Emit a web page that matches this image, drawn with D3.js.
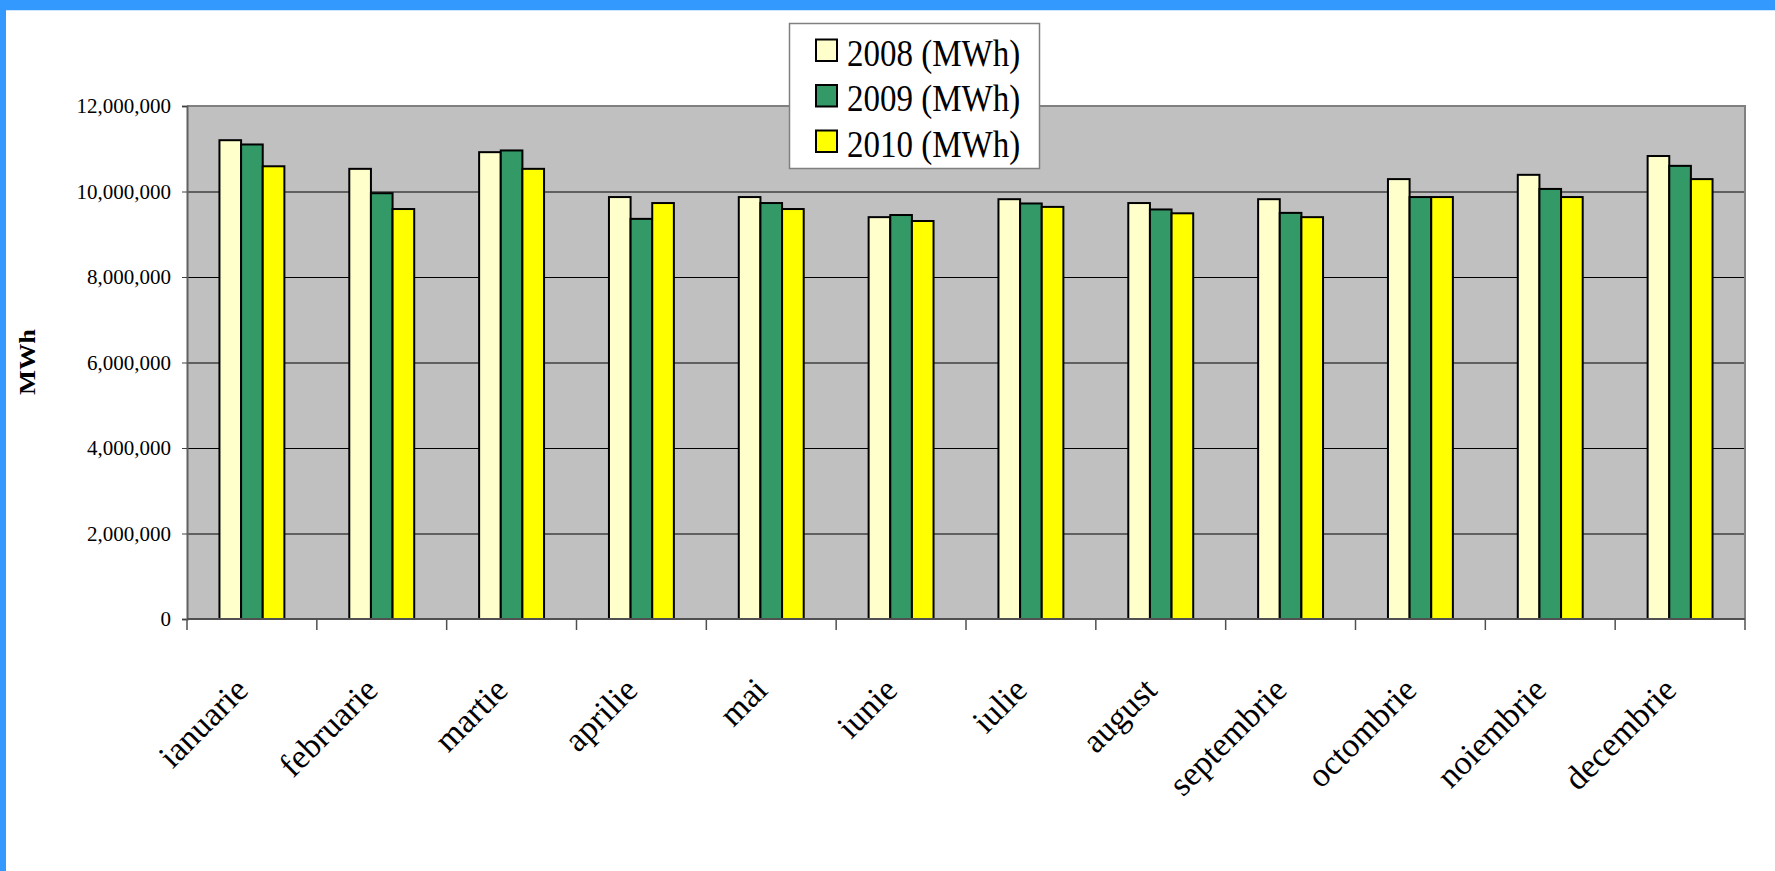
<!DOCTYPE html>
<html>
<head>
<meta charset="utf-8">
<script src="https://cdn.jsdelivr.net/npm/d3@7"></script>
<style>
  body { margin: 0; background: #fff; }
  text { font-family: "Liberation Serif", "Times New Roman", serif; fill: #000; }
</style>
</head>
<body>
<script>
var width = 1775;
var height = 871;

var months = ["ianuarie", "februarie", "martie", "aprilie", "mai", "iunie",
  "iulie", "august", "septembrie", "octombrie", "noiembrie", "decembrie"];
var series = ["2008 (MWh)", "2009 (MWh)", "2010 (MWh)"];
var v2008 = [11200000, 10530000, 10920000, 9870000, 9870000, 9400000, 9820000, 9730000, 9820000, 10290000, 10390000, 10830000];
var v2009 = [11100000, 9960000, 10960000, 9360000, 9730000, 9450000, 9720000, 9580000, 9500000, 9870000, 10060000, 10600000];
var v2010 = [10590000, 9590000, 10530000, 9730000, 9590000, 9310000, 9640000, 9490000, 9400000, 9870000, 9870000, 10290000];
var yTicks = [0, 2000000, 4000000, 6000000, 8000000, 10000000, 12000000];
var colors = ["#ffffcc", "#339966", "#ffff00"];

var values = [v2008, v2009, v2010];

// plot area
var plotLeft = 187, plotRight = 1745, plotTop = 106, plotBottom = 619;

var svg = d3.select("body").append("svg")
    .attr("width", width)
    .attr("height", height);

// blue frame
svg.append("rect").attr("x", 0).attr("y", 0).attr("width", width).attr("height", 10).attr("fill", "#3399ff");
svg.append("rect").attr("x", 0).attr("y", 10).attr("width", width).attr("height", 1).attr("fill", "#cfe6ff");
svg.append("rect").attr("x", 0).attr("y", 0).attr("width", 6).attr("height", height).attr("fill", "#3399ff");

var x0 = d3.scaleBand().domain(months).range([plotLeft, plotRight]).paddingInner(0.5).paddingOuter(0.25);
var x1 = d3.scaleBand().domain(series).range([0, x0.bandwidth()]);
var y = d3.scaleLinear().domain([0, 12000000]).range([plotBottom, plotTop]);

svg.append("rect")
    .attr("x", plotLeft).attr("y", plotTop)
    .attr("width", plotRight - plotLeft).attr("height", plotBottom - plotTop)
    .attr("fill", "#c0c0c0");

// gridlines
svg.append("g")
    .attr("transform", "translate(" + plotLeft + ",0)")
    .call(d3.axisLeft(y).tickValues(yTicks).tickSize(-(plotRight - plotLeft)).tickFormat(""))
    .call(function (g) {
        g.select(".domain").remove();
        g.selectAll("line").attr("stroke", "#000").attr("stroke-width", 1);
    });

// plot border top/right
svg.append("path")
    .attr("d", "M" + plotLeft + "," + plotTop + "H" + plotRight + "V" + plotBottom)
    .attr("fill", "none").attr("stroke", "#808080").attr("stroke-width", 2);

// bars
var groups = svg.selectAll(".grp").data(months).enter().append("g")
    .attr("class", "grp")
    .attr("transform", function (d) { return "translate(" + x0(d) + ",0)"; });

groups.selectAll("rect")
    .data(function (d, i) {
        return series.map(function (s, k) { return { s: s, k: k, v: values[k][i] }; });
    })
    .enter().append("rect")
    .attr("x", function (d) { return x1(d.s); })
    .attr("y", function (d) { return y(d.v); })
    .attr("width", x1.bandwidth())
    .attr("height", function (d) { return y(0) - y(d.v); })
    .attr("fill", function (d) { return colors[d.k]; })
    .attr("stroke", "#000")
    .attr("stroke-width", 2);

// y axis
svg.append("g")
    .attr("transform", "translate(" + plotLeft + ",0)")
    .call(d3.axisLeft(y).tickValues(yTicks).tickSize(5).tickPadding(11).tickFormat(d3.format(",")))
    .call(function (g) {
        g.select(".domain").attr("stroke", "#606060").attr("stroke-width", 2);
        g.selectAll("line").attr("stroke", "#404040");
        g.selectAll("text").style("font-family", "'Liberation Serif', serif").attr("font-size", 21);
    });

// x axis line + ticks at category boundaries
var step = x0.step();
var bounds = months.map(function (m) { return x0(m) - step * x0.paddingOuter(); });
bounds.push(plotRight);

svg.append("line")
    .attr("x1", plotLeft).attr("x2", plotRight)
    .attr("y1", plotBottom).attr("y2", plotBottom)
    .attr("stroke", "#505050").attr("stroke-width", 2);

svg.selectAll(".xtick").data(bounds).enter().append("line")
    .attr("class", "xtick")
    .attr("x1", function (d) { return d; })
    .attr("x2", function (d) { return d; })
    .attr("y1", plotBottom)
    .attr("y2", plotBottom + 11)
    .attr("stroke", "#505050")
    .attr("stroke-width", 1.5);

svg.selectAll(".xlab").data(months).enter().append("text")
    .attr("class", "xlab")
    .attr("text-anchor", "end")
    .attr("font-size", 34)
    .attr("transform", function (d) {
        return "translate(" + (x0(d) + x0.bandwidth() / 2 - 2) + "," + (plotBottom + 73) + ") rotate(-45)";
    })
    .text(function (d) { return d; });

// y title
svg.append("text")
    .attr("text-anchor", "middle")
    .attr("font-weight", "bold")
    .attr("font-size", 23)
    .attr("transform", "translate(35,362) scale(1,1.15) rotate(-90)")
    .text("MWh");

// legend
var legend = svg.append("g");
legend.append("rect")
    .attr("x", 789.5).attr("y", 23.5)
    .attr("width", 250).attr("height", 145)
    .attr("fill", "#fff")
    .attr("stroke", "#808080")
    .attr("stroke-width", 1.5);

var items = legend.selectAll(".item").data(series).enter().append("g")
    .attr("class", "item")
    .attr("transform", function (d, i) { return "translate(0," + (i * 45.5) + ")"; });

items.append("rect")
    .attr("x", 816).attr("y", 39.5)
    .attr("width", 21).attr("height", 21.5)
    .attr("fill", function (d, i) { return colors[i]; })
    .attr("stroke", "#000")
    .attr("stroke-width", 2);

items.append("text")
    .attr("font-size", 33)
    .attr("transform", "translate(847,65.5) scale(1,1.15)")
    .text(function (d) { return d; });
</script>
</body>
</html>
